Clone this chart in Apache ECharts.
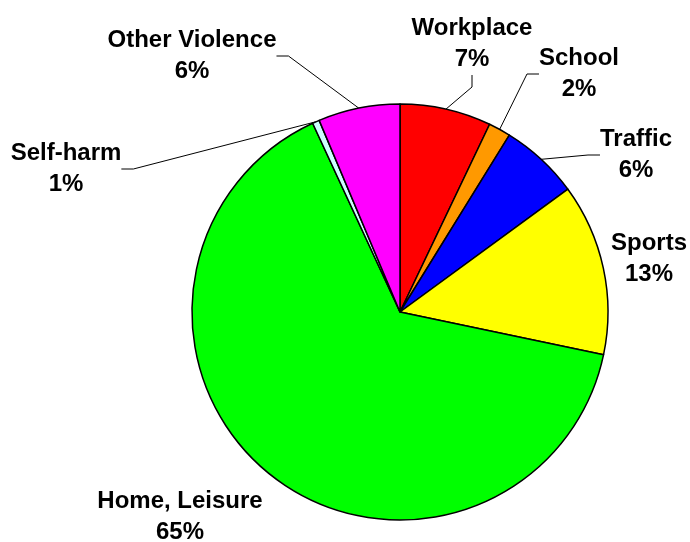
<!DOCTYPE html>
<html>
<head>
<meta charset="utf-8">
<script src="https://cdn.jsdelivr.net/npm/echarts@6/dist/echarts.min.js"></script>
<style>
  html, body { margin: 0; padding: 0; background: #fff; }
  #chart { width: 690px; height: 542px; }
</style>
</head>
<body>
<div id="chart"></div>
<script>
// ---- data ----
const categories = ['Workplace', 'School', 'Traffic', 'Sports', 'Home, Leisure', 'Self-harm', 'Other Violence'];
const shares = [7.09, 1.72, 6.14, 13.34, 64.81, 0.55, 6.35];

// ---- styling / layout (not data) ----
const colors = ['#ff0000', '#ff9900', '#0000ff', '#ffff00', '#00ff00', '#ccffff', '#ff00ff'];
const labelCenters = [[472, 44], [579, 74], [636, 155], [649, 259], [180, 517], [66, 169], [192, 56]];
const hideLine = ['Sports', 'Home, Leisure'];

const chart = echarts.init(document.getElementById('chart'), null, { renderer: 'canvas' });

const data = categories.map((name, i) => ({
  name: name,
  value: shares[i],
  itemStyle: { color: colors[i] },
  labelLine: { show: hideLine.indexOf(name) < 0 }
}));

chart.setOption({
  animation: false,
  backgroundColor: '#ffffff',
  series: [{
    type: 'pie',
    center: [400, 312],
    radius: 208,
    startAngle: 90,
    clockwise: true,
    avoidLabelOverlap: false,
    data: data,
    itemStyle: { borderColor: '#000000', borderWidth: 1.5 },
    emphasis: { disabled: true },
    label: {
      show: true,
      position: 'outer',
      formatter: p => p.name + '\n' + Math.round(p.percent) + '%',
      fontFamily: 'Arial, "Liberation Sans", sans-serif',
      fontWeight: 'bold',
      fontSize: 24,
      lineHeight: 31,
      color: '#000000'
    },
    labelLine: {
      show: true,
      length: 10,
      length2: 12,
      lineStyle: { color: '#000000', width: 1 }
    },
    labelLayout: function (params) {
      const c = labelCenters[params.dataIndex];
      return { x: c[0], y: c[1], align: 'center', verticalAlign: 'middle' };
    }
  }]
});
</script>
</body>
</html>
